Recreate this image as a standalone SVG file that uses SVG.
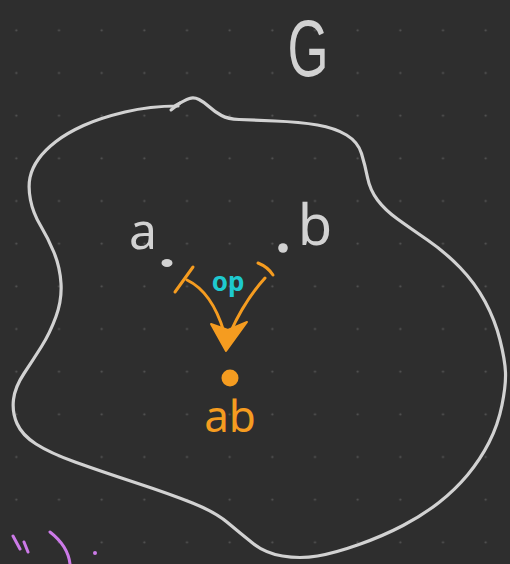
<svg xmlns="http://www.w3.org/2000/svg" width="510" height="564" viewBox="0 0 510 564">
  <defs>
    <pattern id="grid" patternUnits="userSpaceOnUse" x="-5" y="9" width="42.667" height="42.667">
      <circle cx="21.333" cy="21.333" r="1.1" fill="#565656"/>
    </pattern>
    <style>
      .ink { fill: none; stroke-linecap: round; stroke-linejoin: round; }
      .gray { stroke: #d2d2d2; }
      .orange { stroke: #f59c20; }
      .purple { stroke: #cc7ae8; }
      .label { font-family: "Noto Sans", "Liberation Sans", sans-serif; text-anchor: middle; }
      .title { font-family: "Liberation Sans", "Noto Sans", sans-serif; text-anchor: middle; }
    </style>
  </defs>

  <!-- canvas -->
  <rect width="510" height="564" fill="#2e2e2e"/>
  <rect width="510" height="564" fill="url(#grid)"/>

  <!-- set G: closed freehand outline -->
  <g id="set-G">
    <path class="ink gray" stroke-width="3.2" d="M173,107 Q185,100 189.5,98.5 Q194,97 199,99.5 Q204,102 209.5,107 Q215,112 221.5,115.5 Q228,119 239,119.5 Q250,120 275,121 Q300,122 317.5,125 Q335,128 346.5,135 Q358,142 361.5,153.5 Q365,165 367.5,177.5 Q370,190 377.5,200 Q385,210 397.5,219 Q410,228 427.5,240 Q445,252 460,267.5 Q475,283 485,301.5 Q495,320 500,340 Q505,360 505.5,372.5 Q506,385 502,405 Q498,425 489,442.5 Q480,460 467.5,475 Q455,490 439,502.5 Q423,515 403,525.5 Q383,536 359,544.5 Q335,553 317.5,556 Q300,559 282.5,556 Q265,553 252.5,543 Q240,533 227.5,522.5 Q215,512 192.5,503 Q170,494 135,482.5 Q100,471 75,462 Q50,453 36,444 Q22,435 17,423.5 Q12,412 13.5,399.5 Q15,387 24,373.5 Q33,360 41.5,346.5 Q50,333 56,316.5 Q62,300 61,283.5 Q60,267 54,252.5 Q48,238 40.5,225.5 Q33,213 30.5,200 Q28,187 30,177.5 Q32,168 38.5,159 Q45,150 56,141.5 Q67,133 83.5,125.5 Q100,118 125,112 Q150,106 178,106"/>
    <path class="ink gray" stroke-width="3" d="M171,110 L180,103"/>
    <text class="title" transform="translate(308,76) scale(0.66,1)" font-size="80" fill="#d2d2d2">G</text>
  </g>

  <!-- element a -->
  <g id="node-a">
    <ellipse cx="167" cy="263" rx="5.5" ry="4" fill="#d2d2d2"/>
    <text class="label" x="143" y="249" font-size="50" fill="#d2d2d2">a</text>
  </g>

  <!-- element b -->
  <g id="node-b">
    <circle cx="283" cy="248" r="4.8" fill="#d2d2d2"/>
    <text class="label" x="315" y="245" font-size="56" fill="#d2d2d2">b</text>
  </g>

  <!-- product ab -->
  <g id="node-ab">
    <circle cx="230" cy="378" r="8.5" fill="#f59c20"/>
    <text class="label" x="230" y="432" font-size="44" fill="#f59c20">ab</text>
  </g>

  <!-- operation arrows from a and b into ab -->
  <g id="connectors">
    <path class="ink orange" stroke-width="3" d="M175,292 L193,267"/>
    <path class="ink orange" stroke-width="3" d="M187,280 Q212,292 224,332"/>
    <path class="ink orange" stroke-width="3" d="M258,263 Q268,267 273,275"/>
    <path class="ink orange" stroke-width="3" d="M265,278 Q245,300 230,333"/>
    <path d="M211,324 L228,330 L247,322 L226,351 Z" fill="#f59c20" stroke="#f59c20" stroke-width="2" stroke-linejoin="round"/>
    <text class="label" x="228" y="291" font-size="26" font-weight="bold" fill="#1ec9cf">op</text>
  </g>

  <!-- scribble at the lower left edge -->
  <g id="scribble">
    <path class="ink purple" stroke-width="3" d="M13,536 L20,549 M24,542 L28,552 M50,532 Q68,546 70,564"/>
    <circle cx="95" cy="553" r="2" fill="#cc7ae8"/>
  </g>
</svg>
